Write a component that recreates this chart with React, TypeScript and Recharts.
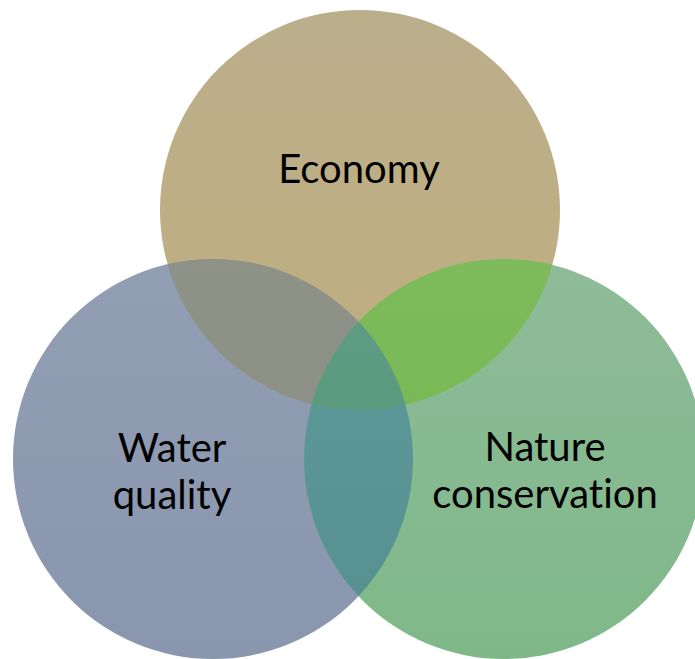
import React from 'react';
import { ScatterChart, Scatter, XAxis, YAxis } from 'recharts';

// ---- data ----
const CIRCLE_IDS = ['E', 'W', 'N'];
const CIRCLE_LABELS = [['Economy'], ['Water', 'quality'], ['Nature', 'conservation']];
const CIRCLE_X = [360, 213, 504];
const CIRCLE_Y = [210, 459, 459];
const CIRCLE_R = [200, 200, 200];

// overlap regions: base circle, clipped by the others
const OVERLAP_BASE = ['E', 'E', 'W', 'E'];
const OVERLAP_CLIPS = [['W'], ['N'], ['N'], ['W', 'N']];

// ---- layout / style ----
const CHART_W = 695;
const CHART_H = 659;
const X_DOMAIN: [number, number] = [0, 695];
const Y_DOMAIN: [number, number] = [0, 659];
const K = CHART_W / (X_DOMAIN[1] - X_DOMAIN[0]);

const FILLS: Record<string, [string, string]> = {
  E: ['#bbae8b', '#bfae7e'],
  W: ['#919eb4', '#8996ad'],
  N: ['#8fbb99', '#7fb888'],
  'E-W': ['#909489', '#8c9085'],
  'E-N': ['#89bd66', '#78b955'],
  'W-N': ['#609a9a', '#568f90'],
  'E-W-N': ['#649f8c', '#5c9a80'],
};
// offset of the first line's baseline from the circle centre
const LABEL_OFFSET: Record<string, [number, number]> = {
  E: [-1, -27],
  W: [-41, 3],
  N: [41, 2],
};
const FONT = 'Lato, "Open Sans", sans-serif';
const FONT_SIZE = 40;
const LINE_H = 46.5;

const circleData = CIRCLE_IDS.map((id, i) => ({
  id,
  x: CIRCLE_X[i],
  y: CIRCLE_Y[i],
  r: CIRCLE_R[i],
  lines: CIRCLE_LABELS[i],
}));

const overlapData = OVERLAP_BASE.map((b, i) => {
  const bi = CIRCLE_IDS.indexOf(b);
  return {
    id: [b, ...OVERLAP_CLIPS[i]].join('-'),
    clips: OVERLAP_CLIPS[i],
    x: CIRCLE_X[bi],
    y: CIRCLE_Y[bi],
    r: CIRCLE_R[bi],
  };
});

const Grad = ({ id, colors }: { id: string; colors: [string, string] }) => (
  <linearGradient id={`g-${id}`} x1="0" y1="0" x2="0" y2="1">
    <stop offset="0%" stopColor={colors[0]} />
    <stop offset="100%" stopColor={colors[1]} />
  </linearGradient>
);

const CircleShape = (props: any) => {
  const { cx, cy, payload } = props;
  const r = payload.r * K;
  const id = payload.id;
  return (
    <g>
      <defs>
        <Grad id={id} colors={FILLS[id]} />
        <clipPath id={`clip-${id}`}>
          <circle cx={cx} cy={cy} r={r} />
        </clipPath>
      </defs>
      <circle cx={cx} cy={cy} r={r} fill={`url(#g-${id})`} />
    </g>
  );
};

const OverlapShape = (props: any) => {
  const { cx, cy, payload } = props;
  const r = payload.r * K;
  const id = payload.id;
  let node: React.ReactNode = <circle cx={cx} cy={cy} r={r} fill={`url(#g-${id})`} />;
  (payload.clips as string[]).forEach((c) => {
    node = <g clipPath={`url(#clip-${c})`}>{node}</g>;
  });
  return (
    <g>
      <defs>
        <Grad id={id} colors={FILLS[id]} />
      </defs>
      {node}
    </g>
  );
};

const LabelShape = (props: any) => {
  const { cx, cy, payload } = props;
  const [dx, dy] = LABEL_OFFSET[payload.id];
  const lines: string[] = payload.lines;
  const x = cx + dx;
  const y0 = cy + dy;
  return (
    <text
      x={x}
      y={y0}
      textAnchor="middle"
      fontFamily={FONT}
      fontSize={FONT_SIZE}
      fill="#000"
      style={{ fontVariantLigatures: 'none', fontFeatureSettings: '"liga" 0, "clig" 0' }}
    >
      {lines.map((l, i) => (
        <tspan key={i} x={x} y={y0 + i * LINE_H}>
          {l}
        </tspan>
      ))}
    </text>
  );
};

export default function App() {
  return (
    <div style={{ position: 'absolute', left: 0, top: 0, width: CHART_W, height: CHART_H, background: '#fff' }}>
      <ScatterChart width={CHART_W} height={CHART_H} margin={{ top: 0, right: 0, bottom: 0, left: 0 }}>
        <XAxis type="number" dataKey="x" domain={X_DOMAIN} hide allowDataOverflow />
        <YAxis type="number" dataKey="y" domain={Y_DOMAIN} reversed hide allowDataOverflow width={0} />
        <Scatter data={circleData} shape={(p: any) => <CircleShape {...p} />} isAnimationActive={false} />
        <Scatter data={overlapData} shape={(p: any) => <OverlapShape {...p} />} isAnimationActive={false} />
        <Scatter data={circleData} shape={(p: any) => <LabelShape {...p} />} isAnimationActive={false} />
      </ScatterChart>
    </div>
  );
}
